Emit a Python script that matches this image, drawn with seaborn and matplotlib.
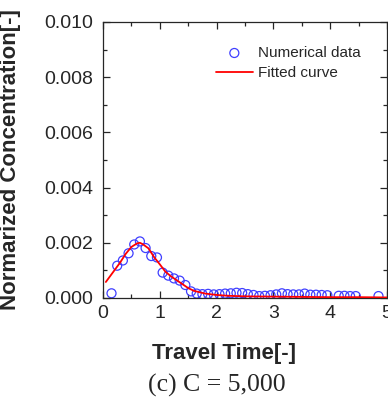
import numpy as np
import pandas as pd
import matplotlib
matplotlib.use('Agg')
import matplotlib.pyplot as plt
from matplotlib.ticker import MultipleLocator
import seaborn as sns

# numerical data
t_data = [0.15, 0.25, 0.35, 0.45, 0.55, 0.65, 0.75, 0.85, 0.95, 1.05,
          1.15, 1.25, 1.35, 1.45, 1.55, 1.65, 1.75, 1.85, 1.95, 2.05,
          2.15, 2.25, 2.35, 2.45, 2.55, 2.65, 2.75, 2.85, 2.95, 3.05,
          3.15, 3.25, 3.35, 3.45, 3.55, 3.65, 3.75, 3.85, 3.95, 4.15,
          4.25, 4.35, 4.45, 4.85]
c_data = [0.00017, 0.00117, 0.00136, 0.00162, 0.00194, 0.00205, 0.00181, 0.00152, 0.00147, 0.00092,
          0.00081, 0.00071, 0.00063, 0.00047, 0.00024, 0.00016, 0.00014, 0.00015, 0.00013, 0.00014,
          0.00016, 0.00017, 0.00019, 0.00018, 0.00014, 0.00011, 0.00007, 0.00008, 0.00010, 0.00013,
          0.00017, 0.00014, 0.00013, 0.00013, 0.00016, 0.00012, 0.00012, 0.00011, 0.00010, 0.00008,
          0.00008, 0.00007, 0.00007, 0.00007]

# fitted curve
t_fit = [0.05, 0.1, 0.2, 0.3, 0.4, 0.5, 0.6, 0.65, 0.7, 0.8, 0.9, 1.0, 1.1, 1.2, 1.3,
         1.4, 1.5, 1.6, 1.8, 2.0, 2.2, 2.5, 3.0, 3.5, 4.0, 4.5, 5.0]
c_fit = [0.00058, 0.00072, 0.00100, 0.00128, 0.00160, 0.00185, 0.00198, 0.00200, 0.00195,
         0.00180, 0.00148, 0.00122, 0.00095, 0.00078, 0.00064, 0.00050, 0.00036, 0.00026,
         0.00016, 0.00011, 0.00008, 0.00006, 0.00005, 0.00004, 0.00003, 0.00003, 0.00002]

df_data = pd.DataFrame({'t': t_data, 'c': c_data})
df_fit = pd.DataFrame({'t': t_fit, 'c': c_fit})

sns.set_style('ticks')
plt.rcParams['font.family'] = ['Liberation Sans', 'DejaVu Sans']

fig = plt.figure(figsize=(3.88, 3.97), dpi=100)
ax = fig.add_axes([103/388, 1 - 298/397, 284/388, 276/397])

sns.scatterplot(data=df_data, x='t', y='c', ax=ax, marker='o', s=42,
                facecolor='none', edgecolor='#3f3fff', linewidth=0.9,
                label='Numerical data', zorder=2)
sns.lineplot(data=df_fit, x='t', y='c', ax=ax, color='#ff0000', linewidth=1.3,
             label='Fitted curve', zorder=3)

ax.set_xlim(0, 5)
ax.set_ylim(0, 0.010)
ax.xaxis.set_major_locator(MultipleLocator(1))
ax.xaxis.set_minor_locator(MultipleLocator(0.5))
ax.yaxis.set_major_locator(MultipleLocator(0.002))
ax.yaxis.set_minor_locator(MultipleLocator(0.001))
ax.yaxis.set_major_formatter(matplotlib.ticker.FormatStrFormatter('%.3f'))
ax.tick_params(which='both', direction='in', top=True, right=True, labelsize=14, width=0.9)
ax.tick_params(which='major', length=5)
ax.tick_params(which='minor', length=3)
ax.tick_params(axis='y', which='major', pad=7)
ax.tick_params(axis='x', which='major', pad=5)
for s in ax.spines.values():
    s.set_linewidth(0.9)

ax.set_xlabel('Travel Time[-]', fontsize=16, fontweight='bold', va='center')
ax.set_ylabel('Normarized Concentration[-]', fontsize=16, fontweight='bold', va='center')
ax.xaxis.set_label_coords((224 - 103) / 284, -(353 - 298) / 276)
ax.yaxis.set_label_coords(-(103 - 11) / 284, 0.5)

ax.legend(loc='upper left', bbox_to_anchor=((216 - 103) / 284, (298 - 46) / 276),
          frameon=False, fontsize=11, borderpad=0, borderaxespad=0,
          handlelength=2.4, handletextpad=0.35, labelspacing=0.42)

fig.text(217 / 388, 1 - 385 / 397, '(c) C = 5,000', ha='center', va='center',
         fontsize=18.5, family=['Liberation Serif', 'DejaVu Serif'])

fig.savefig('out.png', dpi=100)
